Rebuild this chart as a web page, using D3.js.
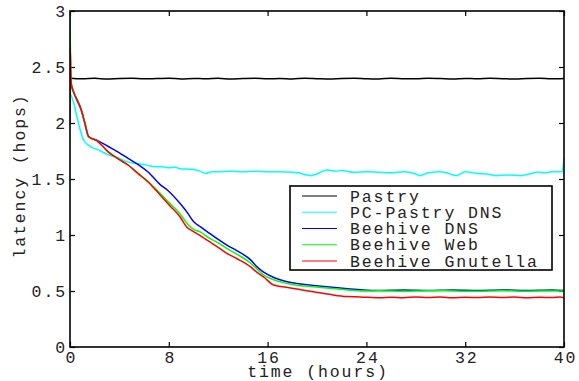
<!DOCTYPE html>
<html>
<head>
<meta charset="utf-8">
<script src="https://cdn.jsdelivr.net/npm/d3@7"></script>
<style>
  body { margin: 0; background: #fff; }
  svg { display: block; }
  text { font-family: "Liberation Mono", "DejaVu Sans Mono", monospace; font-size: 16.5px; letter-spacing: 1.9px; fill: #222; }
</style>
</head>
<body>
<script>
// series: [hours, latency in hops]
const pastry = [[0,2.40],[1,2.395],[2,2.40],[3,2.392],[4,2.398],[5,2.40],[6,2.394],[7,2.397],[8,2.40],[9,2.393],
  [10,2.398],[11,2.395],[12,2.40],[13,2.392],[14,2.397],[15,2.40],[16,2.394],[17,2.398],[18,2.393],[19,2.40],
  [20,2.396],[21,2.392],[22,2.398],[23,2.40],[24,2.395],[25,2.393],[26,2.40],[27,2.396],[28,2.394],[29,2.40],
  [30,2.397],[31,2.393],[32,2.398],[33,2.395],[34,2.40],[35,2.396],[36,2.392],[37,2.398],[38,2.40],[39,2.394],[40,2.398]];
const pcPastryDns = [[0,2.27],[0.3,2.18],[0.55,2.06],[0.8,1.95],[1.05,1.86],[1.5,1.80],[2.3,1.76],[3.0,1.72],[3.9,1.69],
  [4.5,1.66],[5.2,1.64],[6.0,1.63],[6.9,1.61],[7.5,1.61],[8,1.60],[8.5,1.605],[9,1.59],[9.5,1.59],[10,1.585],[10.5,1.57],
  [11,1.55],[11.5,1.565],[12,1.565],[13,1.57],[14,1.565],[15,1.57],[16,1.565],[17,1.565],[18,1.56],[18.5,1.555],[19,1.54],
  [19.5,1.53],[20,1.545],[20.8,1.58],[21.5,1.57],[22,1.575],[23,1.56],[24,1.565],[25,1.56],[26,1.555],[27,1.565],[28,1.545],
  [28.3,1.53],[29,1.555],[30,1.565],[30.5,1.555],[31.3,1.53],[32,1.565],[33,1.55],[34,1.54],[34.5,1.53],[35.5,1.535],
  [36.5,1.53],[37.2,1.545],[37.8,1.56],[38.5,1.555],[39,1.565],[39.85,1.565],[40,1.69]];
const beehiveDns = [[0,2.36],[0.4,2.25],[0.9,2.12],[1.2,2.0],[1.5,1.88],[2.2,1.845],[3.1,1.79],[3.9,1.74],[4.7,1.685],
  [5.5,1.63],[6.3,1.565],[7.3,1.45],[7.9,1.40],[8.9,1.283],[9.5,1.20],[10,1.12],[10.6,1.07],[11.3,1.015],[12,0.96],
  [12.7,0.91],[13.5,0.86],[14.6,0.78],[15.1,0.72],[15.65,0.67],[16.5,0.62],[17.5,0.585],[18.5,0.565],[19.7,0.55],
  [21,0.535],[22.5,0.52],[23.7,0.51],[25,0.505],[27,0.51],[29,0.505],[31,0.51],[33,0.505],[35,0.51],[37,0.505],[39,0.51],[40,0.505]];
const beehiveWeb = [[0,3.0],[0.08,2.37],[0.4,2.25],[0.9,2.12],[1.2,2.0],[1.5,1.88],[2.2,1.84],[3.1,1.745],[3.9,1.68],
  [4.7,1.625],[5.5,1.55],[6.3,1.48],[7.3,1.372],[8.1,1.28],[8.9,1.19],[9.5,1.10],[10,1.05],[10.5,1.03],[11.3,0.97],
  [12,0.93],[12.7,0.88],[13.5,0.83],[14.6,0.75],[15.1,0.70],[15.65,0.645],[16.5,0.60],[17.5,0.57],[18.5,0.55],
  [19.7,0.538],[21,0.525],[22.5,0.51],[23.7,0.50],[25,0.502],[27,0.498],[29,0.503],[31,0.50],[33,0.497],[35,0.502],
  [37,0.498],[39,0.50],[40,0.50]];
const beehiveGnutella = [[0,2.0],[0.02,2.67],[0.1,2.35],[0.5,2.22],[0.9,2.12],[1.2,2.0],[1.5,1.88],[2.2,1.84],[3.1,1.74],
  [3.9,1.68],[4.7,1.625],[5.5,1.55],[6.3,1.476],[7.3,1.357],[8.1,1.26],[8.9,1.163],[9.43,1.074],[10,1.03],[10.6,0.99],
  [11.3,0.94],[12,0.89],[12.7,0.836],[13.5,0.79],[14.6,0.717],[15.1,0.67],[15.65,0.628],[16.5,0.553],[17.5,0.533],
  [18.5,0.515],[19.7,0.494],[21,0.47],[22.4,0.45],[23.5,0.447],[25.1,0.44],[26,0.445],[27,0.44],[28,0.447],[29,0.442],
  [30,0.446],[31,0.44],[32,0.445],[33,0.441],[34,0.447],[35,0.442],[36,0.446],[37,0.44],[38,0.445],[39,0.441],
  [39.7,0.446],[40,0.44]];

const seriesNames = ["Pastry", "PC-Pastry DNS", "Beehive DNS", "Beehive Web", "Beehive Gnutella"];
const seriesData = [pastry, pcPastryDns, beehiveDns, beehiveWeb, beehiveGnutella];
const seriesColors = ["#000000", "#00ffff", "#0000ff", "#00ff00", "#ff0000"];
const xTicks = [0, 8, 16, 24, 32, 40];
const yTicks = [0, 0.5, 1, 1.5, 2, 2.5, 3];

const W = 579, H = 381;
const m = {left: 70, right: 15, top: 11, bottom: 34};

const svg = d3.select("body").append("svg")
  .attr("width", W).attr("height", H);

const x = d3.scaleLinear().domain([0, 40]).range([m.left, W - m.right]);
const y = d3.scaleLinear().domain([0, 3]).range([H - m.bottom, m.top]);

svg.append("clipPath").attr("id", "zone")
  .append("rect")
  .attr("x", m.left).attr("y", m.top)
  .attr("width", W - m.left - m.right).attr("height", H - m.top - m.bottom);

// axes, ticks pointing inward, repeated on top and right
const tk = 5;
svg.append("g").attr("transform", `translate(0,${H - m.bottom})`)
  .call(d3.axisBottom(x).tickValues(xTicks).tickSizeInner(-tk).tickSizeOuter(0).tickPadding(4).tickFormat(d3.format("d")));
svg.append("g").attr("transform", `translate(0,${m.top})`)
  .call(d3.axisTop(x).tickValues(xTicks).tickSizeInner(-tk).tickSizeOuter(0).tickFormat(""));
svg.append("g").attr("transform", `translate(${m.left},0)`)
  .call(d3.axisLeft(y).tickValues(yTicks).tickSizeInner(-tk).tickSizeOuter(0).tickPadding(4).tickFormat(d => String(d)));
svg.append("g").attr("transform", `translate(${W - m.right},0)`)
  .call(d3.axisRight(y).tickValues(yTicks).tickSizeInner(-tk).tickSizeOuter(0).tickFormat(""));

svg.selectAll(".domain").remove();
svg.selectAll(".tick line").attr("stroke", "#000").attr("stroke-width", 1.2);
svg.selectAll(".tick text").attr("font-size", null).attr("font-family", null).attr("fill", null);
// keep x labels centred under their ticks despite the letter spacing
svg.selectAll(".tick text").filter(function() { return this.getAttribute("text-anchor") !== "end"; })
  .attr("dx", "1px");

// lines
const line = d3.line().x(d => x(d[0])).y(d => y(d[1])).curve(d3.curveMonotoneX);
svg.append("g").attr("clip-path", "url(#zone)")
  .selectAll("path")
  .data(seriesData)
  .join("path")
  .attr("d", line)
  .attr("fill", "none")
  .attr("stroke", (d, i) => seriesColors[i])
  .attr("stroke-width", 1.5);

// frame
svg.append("rect")
  .attr("x", m.left).attr("y", m.top)
  .attr("width", W - m.left - m.right).attr("height", H - m.top - m.bottom)
  .attr("fill", "none").attr("stroke", "#000").attr("stroke-width", 1.6);

// axis titles
svg.append("text")
  .attr("x", (m.left + W - m.right) / 2 + 1).attr("y", 377)
  .attr("text-anchor", "middle")
  .text("time (hours)");
svg.append("text")
  .attr("transform", `translate(25,${(m.top + H - m.bottom) / 2 - 3}) rotate(-90)`)
  .attr("text-anchor", "middle")
  .text("latency (hops)");

// legend
const lg = svg.append("g");
lg.append("rect")
  .attr("x", 290).attr("y", 186).attr("width", 262).attr("height", 84)
  .attr("fill", "#fff").attr("stroke", "#000").attr("stroke-width", 1.6);
const row = lg.selectAll(".row").data(seriesNames).join("g")
  .attr("class", "row")
  .attr("transform", (d, i) => `translate(0,${201.5 + i * 16.25})`);
row.append("line")
  .attr("x1", 302).attr("x2", 337).attr("y1", -5.5).attr("y2", -5.5)
  .attr("stroke", (d, i) => seriesColors[i]).attr("stroke-width", 1.2);
row.append("text").attr("x", 350).attr("y", 0).text(d => d);
</script>
</body>
</html>
